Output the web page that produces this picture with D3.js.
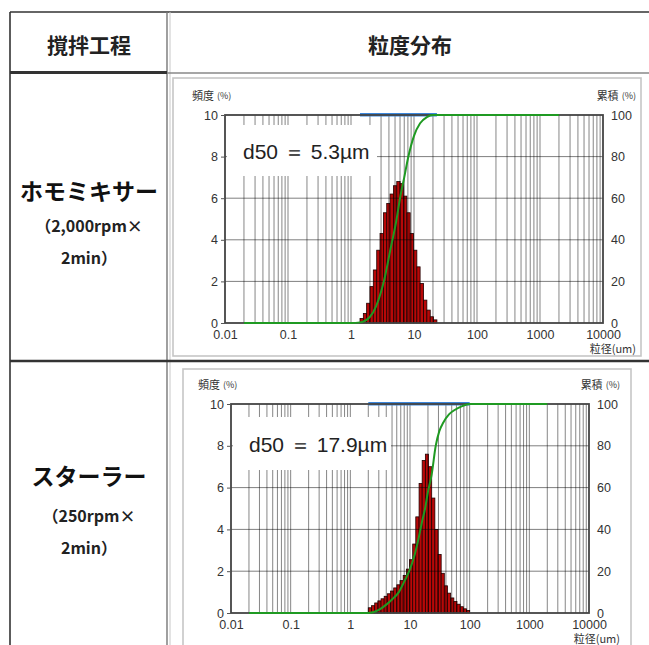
<!DOCTYPE html>
<html><head><meta charset="utf-8">
<script src="https://cdn.jsdelivr.net/npm/d3@7"></script>
<style>
html,body{margin:0;padding:0;background:#fff;}
svg{display:block;}
</style></head>
<body>
<svg id="c" width="649" height="645"></svg>
<script>
// ---------------- data ----------------
const headerLabels = ["撹拌工程", "粒度分布"];
const processNames = ["ホモミキサー", "スターラー"];
const processCond1 = ["（2,000rpm×", "（250rpm×"];
const processCond2 = ["2min）", "2min）"];
const d50Values = [5.3, 17.9];
const xTicks = [0.01, 0.1, 1, 10, 100, 1000, 10000];
const xTickLabels = ["0.01", "0.1", "1", "10", "100", "1000", "10000"];
const freqTicks = [0, 2, 4, 6, 8, 10];
const cumTicks = [0, 20, 40, 60, 80, 100];
const freqTitle = "頻度";
const cumTitle = "累積";
const sizeTitle = "粒径(um)";

// chart 1 (ホモミキサー)
const binEdges1 = [1.39, 1.57, 1.77, 2.00, 2.26, 2.56, 2.89, 3.27, 3.69, 4.17, 4.71, 5.33,
  6.02, 6.80, 7.69, 8.69, 9.82, 11.1, 12.5, 14.2, 16.0, 18.1, 20.4, 23.1];
const freq1 = [0.22, 0.46, 0.95, 1.75, 2.55, 3.5, 4.3, 5.3, 5.75, 6.2, 6.6, 6.8,
  6.7, 6.1, 5.3, 4.3, 3.5, 2.7, 1.9, 1.1, 0.62, 0.3, 0.15];
const cumSize1 = [0.02, 1.0, 1.4, 2.0, 2.5, 3.0, 3.5, 4.2, 5.3, 6.0, 7.0, 8.0, 10, 12.5, 16, 20, 2000];
const cumPct1 = [0, 0, 0.3, 3, 8, 15, 23, 35, 50, 60, 70, 79, 90, 96, 99, 100, 100];

// chart 2 (スターラー)
const binEdges2 = [2.00, 2.26, 2.56, 2.89, 3.27, 3.69, 4.17, 4.71, 5.33, 6.02, 6.80, 7.69,
  8.69, 9.82, 11.1, 12.5, 14.2, 16.0, 18.1, 20.4, 23.1, 26.1, 29.5, 33.3, 37.6, 42.5,
  48.0, 54.3, 61.3, 69.3, 78.3, 88.5, 100.0];
const freq2 = [0.25, 0.35, 0.48, 0.58, 0.68, 0.8, 0.92, 1.05, 1.2, 1.35, 1.55, 1.8,
  2.1, 2.55, 3.3, 4.6, 6.2, 7.3, 7.6, 7.0, 5.5, 4.0, 2.8, 1.9, 1.3, 0.95,
  0.72, 0.55, 0.42, 0.3, 0.2, 0.12];
const cumSize2 = [0.02, 2.0, 3.0, 4.0, 5.0, 6.5, 8.0, 10, 12, 14, 16, 17.9, 20, 23, 27, 31, 36, 45, 55, 75, 100, 2000];
const cumPct2 = [0, 0, 1.5, 4, 6.5, 10, 15, 21, 28, 36, 44, 50, 58, 66, 80, 87, 91, 95, 97, 99, 100, 100];

// ---------------- drawing ----------------
const svg = d3.select("#c");
const JP = "'Noto Sans CJK JP', sans-serif";
const NUM = "'Liberation Sans', Arial, sans-serif";

// table lines
const tbl = svg.append("g");
tbl.append("line").attr("x1", 10).attr("x2", 649).attr("y1", 12).attr("y2", 12).attr("stroke", "#333").attr("stroke-width", 1.6);
tbl.append("line").attr("x1", 10).attr("x2", 10).attr("y1", 12).attr("y2", 645).attr("stroke", "#333").attr("stroke-width", 1.6);
tbl.append("line").attr("x1", 167).attr("x2", 167).attr("y1", 12).attr("y2", 645).attr("stroke", "#777").attr("stroke-width", 1.4);
tbl.append("line").attr("x1", 170).attr("x2", 170).attr("y1", 12).attr("y2", 645).attr("stroke", "#c8c8c8").attr("stroke-width", 1);
tbl.append("line").attr("x1", 10).attr("x2", 167).attr("y1", 72.5).attr("y2", 72.5).attr("stroke", "#333").attr("stroke-width", 3);
tbl.append("line").attr("x1", 167).attr("x2", 649).attr("y1", 73).attr("y2", 73).attr("stroke", "#888").attr("stroke-width", 1.4);
tbl.append("line").attr("x1", 10).attr("x2", 649).attr("y1", 361).attr("y2", 361).attr("stroke", "#333").attr("stroke-width", 2.6);

// header
tbl.append("text").attr("x", 89).attr("y", 44).attr("text-anchor", "middle").attr("dominant-baseline", "central")
  .attr("font-family", JP).attr("font-weight", "bold").attr("font-size", 21).attr("fill", "#222").text(headerLabels[0]);
tbl.append("text").attr("x", 410).attr("y", 44).attr("text-anchor", "middle").attr("dominant-baseline", "central")
  .attr("font-family", JP).attr("font-weight", "bold").attr("font-size", 21).attr("fill", "#222").text(headerLabels[1]);

// left column rows
const rowY = [190, 475];
processNames.forEach((name, i) => {
  const y0 = rowY[i];
  tbl.append("text").attr("x", 89).attr("y", y0).attr("text-anchor", "middle").attr("dominant-baseline", "central")
    .attr("font-family", JP).attr("font-weight", "bold").attr("font-size", 23).attr("fill", "#111").text(name);
  tbl.append("text").attr("x", 89).attr("y", y0 + (i === 0 ? 35 : 40)).attr("text-anchor", "middle").attr("dominant-baseline", "central")
    .attr("font-family", JP).attr("font-weight", "bold").attr("font-size", 16).attr("fill", "#222").text(processCond1[i]);
  tbl.append("text").attr("x", 89).attr("y", y0 + (i === 0 ? 67 : 72)).attr("text-anchor", "middle").attr("dominant-baseline", "central")
    .attr("font-family", JP).attr("font-weight", "bold").attr("font-size", 16).attr("fill", "#222").text(processCond2[i]);
});

function drawChart(cfg) {
  const g = svg.append("g");
  const x = d3.scaleLog().domain([0.01, 10000]).range([cfg.l, cfg.r]);
  const yF = d3.scaleLinear().domain([0, 10]).range([cfg.b, cfg.t]);
  const yC = d3.scaleLinear().domain([0, 100]).range([cfg.b, cfg.t]);

  // panel
  g.append("rect").attr("x", cfg.px).attr("y", cfg.py).attr("width", cfg.pw).attr("height", cfg.ph)
    .attr("fill", "#fff").attr("stroke", "#c6c6c6").attr("stroke-width", 1.6);

  // histogram bars
  const bars = cfg.freq.map((v, i) => ({ x0: cfg.edges[i], x1: cfg.edges[i + 1], v }));
  g.append("g").selectAll("rect").data(bars).join("rect")
    .attr("x", d => x(d.x0)).attr("width", d => x(d.x1) - x(d.x0))
    .attr("y", d => yF(d.v)).attr("height", d => yF(0) - yF(d.v))
    .attr("fill", "#b80808").attr("stroke", "#200000").attr("stroke-width", 0.8);

  // grid
  const gridVals = [];
  for (let e = -2; e < 4; e++) for (let m = 1; m < 10; m++) gridVals.push(m * Math.pow(10, e));
  g.append("g").selectAll("line").data(gridVals.filter(v => v > 0.01)).join("line")
    .attr("x1", d => x(d)).attr("x2", d => x(d)).attr("y1", cfg.t).attr("y2", cfg.b)
    .attr("stroke", "#000").attr("stroke-opacity", 0.48).attr("stroke-width", 1);
  g.append("g").selectAll("line").data([2, 4, 6, 8]).join("line")
    .attr("x1", cfg.l).attr("x2", cfg.r).attr("y1", d => yF(d)).attr("y2", d => yF(d))
    .attr("stroke", "#000").attr("stroke-opacity", 0.5).attr("stroke-width", 1);

  // d50 label box
  g.append("rect").attr("x", cfg.bx).attr("y", cfg.by).attr("width", cfg.bw).attr("height", cfg.bh).attr("fill", "#fff");
  g.append("text").attr("x", cfg.bx + 16).attr("y", cfg.by + cfg.bh / 2 + 1).attr("dominant-baseline", "central")
    .attr("font-family", NUM).attr("font-size", 21).attr("fill", "#222")
    .text("d50 ＝ " + cfg.d50 + "µm");

  // measurement range bar (blue)
  g.append("rect").attr("x", x(cfg.edges[0])).attr("width", x(cfg.edges[cfg.edges.length - 1]) - x(cfg.edges[0]))
    .attr("y", cfg.t - 2).attr("height", 3.5).attr("fill", "#3a86dc");

  // plot frame
  g.append("rect").attr("x", cfg.l).attr("y", cfg.t).attr("width", cfg.r - cfg.l).attr("height", cfg.b - cfg.t)
    .attr("fill", "none").attr("stroke", "#444").attr("stroke-width", 1.8);

  // cumulative curve
  const cum = cfg.cumSize.map((s, i) => [s, cfg.cumPct[i]]);
  const line = d3.line().x(d => x(d[0])).y(d => yC(d[1])).curve(d3.curveMonotoneX);
  g.append("path").attr("d", line(cum)).attr("fill", "none").attr("stroke", "#1f9a22").attr("stroke-width", 2);

  // axes
  const aL = g.append("g").attr("transform", `translate(${cfg.l},0)`)
    .call(d3.axisLeft(yF).tickValues(freqTicks).tickSize(4).tickPadding(3));
  const aR = g.append("g").attr("transform", `translate(${cfg.r},0)`)
    .call(d3.axisRight(yC).tickValues(cumTicks).tickSize(0).tickPadding(8));
  const aB = g.append("g").attr("transform", `translate(0,${cfg.b})`)
    .call(d3.axisBottom(x).tickValues(xTicks).tickFormat((d, i) => xTickLabels[i]).tickSize(0).tickPadding(7));
  [aL, aR, aB].forEach(a => {
    a.select(".domain").remove();
    a.selectAll("line").attr("stroke", "#555");
    a.selectAll("text").attr("font-family", NUM).attr("font-size", 12.5).attr("fill", "#333");
  });

  // axis titles
  const t1 = g.append("text").attr("x", cfg.l - 33).attr("y", cfg.t - 20).attr("dominant-baseline", "central")
    .attr("font-family", JP).attr("font-size", 11).attr("fill", "#333");
  t1.append("tspan").text(freqTitle);
  t1.append("tspan").attr("font-size", 9).attr("dx", 3).text("(%)");
  const t2 = g.append("text").attr("x", cfg.r + cfg.rt).attr("y", cfg.t - 20).attr("text-anchor", "end").attr("dominant-baseline", "central")
    .attr("font-family", JP).attr("font-size", 11).attr("fill", "#333");
  t2.append("tspan").text(cumTitle);
  t2.append("tspan").attr("font-size", 9).attr("dx", 3).text("(%)");
  g.append("text").attr("x", cfg.r + cfg.rt).attr("y", cfg.b + 25).attr("text-anchor", "end").attr("dominant-baseline", "central")
    .attr("font-family", JP).attr("font-size", 11).attr("fill", "#333").text(sizeTitle);
}

drawChart({
  px: 173, py: 78, pw: 468, ph: 278,
  l: 225, t: 115, r: 603, b: 323,
  bx: 227, by: 125, bw: 150, bh: 51, rt: 33,
  edges: binEdges1, freq: freq1, cumSize: cumSize1, cumPct: cumPct1, d50: d50Values[0]
});
drawChart({
  px: 183, py: 369, pw: 448, ph: 282,
  l: 231, t: 404, r: 589, b: 613,
  bx: 233, by: 417, bw: 158, bh: 53, rt: 31,
  edges: binEdges2, freq: freq2, cumSize: cumSize2, cumPct: cumPct2, d50: d50Values[1]
});
</script>
</body></html>
